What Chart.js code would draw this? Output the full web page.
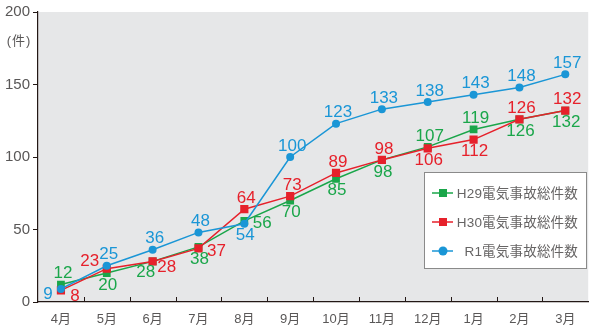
<!DOCTYPE html>
<html>
<head>
<meta charset="utf-8">
<script src="https://cdn.jsdelivr.net/npm/chart.js@4"></script>
<style>
  html, body { margin: 0; padding: 0; background: #fff; }
  #wrap { width: 594px; height: 327px; }
</style>
</head>
<body>
<div id="wrap"><canvas id="grafico" width="594" height="327"></canvas></div>
<script>
// dados
const meses = ['4月', '5月', '6月', '7月', '8月', '9月', '10月', '11月', '12月', '1月', '2月', '3月'];
const h29 = [12, 20, 28, 38, 56, 70, 85, 98, 107, 119, 126, 132];
const h30 = [8, 23, 28, 37, 64, 73, 89, 98, 106, 112, 126, 132];
const r1 = [9, 25, 36, 48, 54, 100, 123, 133, 138, 143, 148, 157];
const nomes = ['H29電気事故総件数', 'H30電気事故総件数', 'R1電気事故総件数'];
const yTicks = [0, 50, 100, 150, 200];

// onde fica cada rótulo em relação ao ponto
const posH29 = ['t', 'b', 'bl', 'b', 'r', 'b', 'b', 'b', 't', 't', 'b', 'b'];
const posH30 = ['br', 'tl', 'br', 'r', 't', 't', 't', 't', 'b', 'b', 't', 't'];
const posR1 = ['l', 't', 't', 't', 'b', 't', 't', 't', 't', 't', 't', 't'];

const desloc = {
    t: [2, -11], b: [1, 12], l: [-13, 5], r: [18, 3],
    br: [14, 6], tl: [-17, -7], bl: [-7, 11]
};

const verde = '#1aa64a';
const vermelho = '#e6212b';
const azul = '#1a96d6';
const cinza = '#595757';
const fonte = "'Liberation Sans', 'Noto Sans CJK JP', sans-serif";

// fundo cinza da área do gráfico
const fundo = {
    id: 'fundo',
    beforeDraw(chart) {
        const { ctx, chartArea: a } = chart;
        ctx.save();
        ctx.fillStyle = '#e6e7e8';
        ctx.fillRect(a.left, a.top, a.right - a.left, a.bottom - a.top);
        ctx.restore();
    }
};

// rótulos com os valores, tracinhos do eixo x, unidade e legenda
const extras = {
    id: 'extras',
    afterDatasetsDraw(chart) {
        const ctx = chart.ctx;
        const a = chart.chartArea;
        const posicoes = [posH29, posH30, posR1];
        ctx.save();
        ctx.font = '17px ' + fonte;
        ctx.textAlign = 'center';
        ctx.textBaseline = 'middle';
        chart.data.datasets.forEach((ds, i) => {
            const meta = chart.getDatasetMeta(i);
            ctx.fillStyle = ds.borderColor;
            meta.data.forEach((p, j) => {
                const d = desloc[posicoes[i][j]];
                ctx.fillText(String(ds.data[j]), p.x + d[0], p.y + d[1]);
            });
        });

        // tracinhos para cima entre os meses
        const larg = (a.right - a.left) / meses.length;
        ctx.strokeStyle = '#231815';
        ctx.lineWidth = 1;
        for (let k = 1; k < meses.length; k++) {
            const x = Math.round(a.left + k * larg) + 0.5;
            ctx.beginPath();
            ctx.moveTo(x, a.bottom);
            ctx.lineTo(x, a.bottom - 5);
            ctx.stroke();
        }

        // unidade
        ctx.fillStyle = cinza;
        ctx.font = '13px ' + fonte;
        if ('letterSpacing' in ctx) ctx.letterSpacing = '1px';
        ctx.fillText('(件)', 19, 41);

        // legenda
        const bx = 424.5, by = 172.5, bw = 162, bh = 96;
        ctx.fillStyle = '#ffffff';
        ctx.fillRect(bx, by, bw, bh);
        ctx.strokeStyle = '#8a8a8a';
        ctx.lineWidth = 1;
        ctx.strokeRect(bx, by, bw, bh);
        const cores = [verde, vermelho, azul];
        const estilos = ['rect', 'rect', 'circle'];
        ctx.font = '13.5px ' + fonte;
        ctx.textAlign = 'right';
        if ('letterSpacing' in ctx) ctx.letterSpacing = '0.2px';
        nomes.forEach((nome, i) => {
            const y = 193 + i * 29;
            ctx.strokeStyle = cores[i];
            ctx.lineWidth = 1.5;
            ctx.beginPath();
            ctx.moveTo(432, y);
            ctx.lineTo(453, y);
            ctx.stroke();
            ctx.fillStyle = cores[i];
            if (estilos[i] === 'rect') {
                ctx.fillRect(439, y - 4, 8, 8);
            } else {
                ctx.beginPath();
                ctx.arc(443, y, 4.5, 0, Math.PI * 2);
                ctx.fill();
            }
            ctx.fillStyle = '#666464';
            ctx.fillText(nome, 578, y + 1);
        });
        ctx.restore();
    }
};

const ctx = document.getElementById('grafico').getContext('2d');
new Chart(ctx, {
    type: 'line',
    data: {
        labels: meses,
        datasets: [
            {
                label: nomes[0],
                data: h29,
                borderColor: verde,
                backgroundColor: verde,
                borderWidth: 1.5,
                pointStyle: 'rect',
                pointRadius: 5.5,
                pointBorderWidth: 0,
                order: 3
            },
            {
                label: nomes[1],
                data: h30,
                borderColor: vermelho,
                backgroundColor: vermelho,
                borderWidth: 1.5,
                pointStyle: 'rect',
                pointRadius: 5.8,
                pointBorderWidth: 0,
                order: 2
            },
            {
                label: nomes[2],
                data: r1,
                borderColor: azul,
                backgroundColor: azul,
                borderWidth: 1.5,
                pointStyle: 'circle',
                pointRadius: 4,
                pointBorderWidth: 0,
                order: 1
            }
        ]
    },
    options: {
        responsive: false,
        animation: false,
        layout: { padding: { top: 10, right: 0, bottom: 0, left: 0 } },
        plugins: {
            legend: { display: false },
            tooltip: { enabled: false }
        },
        scales: {
            x: {
                offset: true,
                grid: { display: true, offset: true, drawOnChartArea: false, drawTicks: false },
                border: { display: true, color: '#231815', width: 1.2 },
                ticks: { color: cinza, font: { size: 13, family: fonte }, padding: 10, maxRotation: 0 },
                afterFit(s) { s.height = 25; }
            },
            y: {
                min: 0,
                max: 200,
                afterBuildTicks(s) { s.ticks = yTicks.map(v => ({ value: v })); },
                grid: { drawOnChartArea: false, drawTicks: true, tickLength: 5, color: '#231815' },
                border: { display: true, color: '#231815', width: 1.2 },
                ticks: { color: cinza, font: { size: 15, family: fonte }, padding: 3 },
                afterFit(s) { s.width = 38; }
            }
        }
    },
    plugins: [fundo, extras]
});
</script>
</body>
</html>
